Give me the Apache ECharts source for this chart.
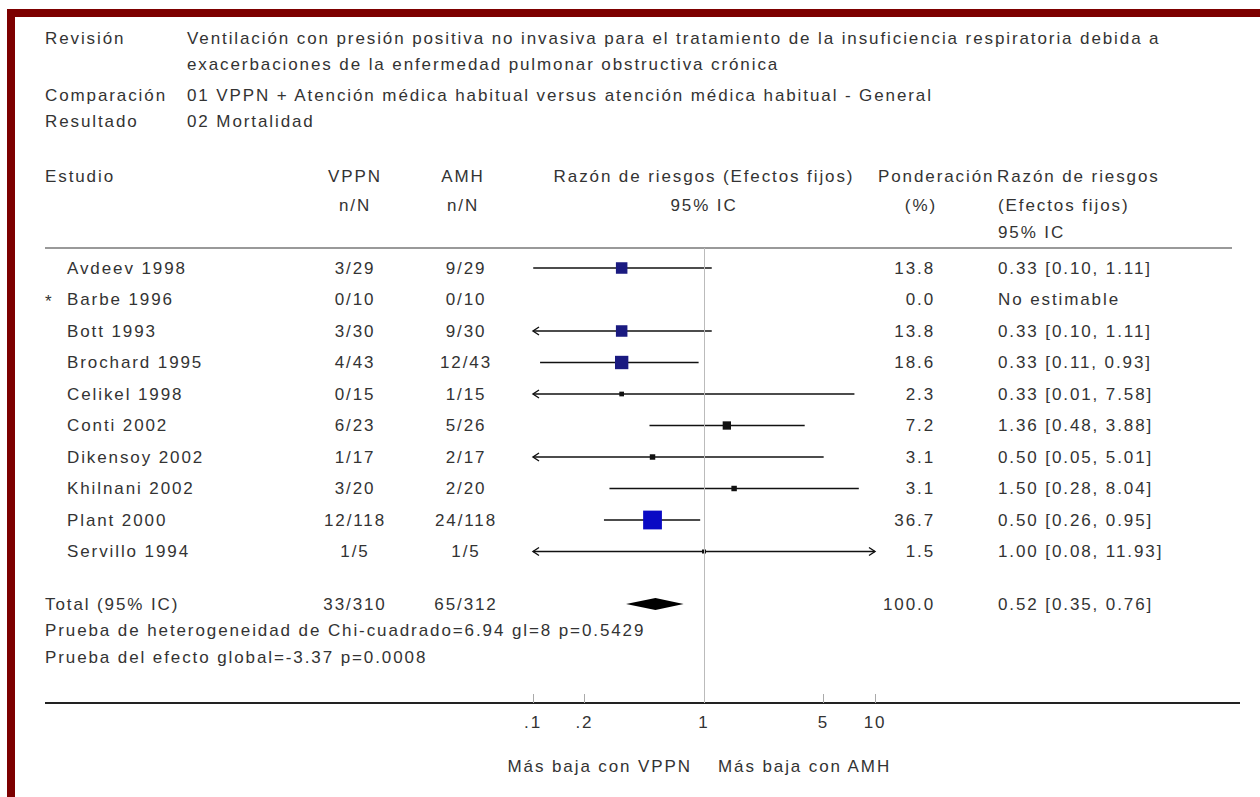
<!DOCTYPE html>
<html><head><meta charset="utf-8">
<script src="https://cdn.jsdelivr.net/npm/echarts@6/dist/echarts.min.js"></script>
<style>
html,body{margin:0;padding:0;background:#fff;}
#c{width:1260px;height:797px;}
#c svg text{letter-spacing:1.9px;}
</style></head><body><div id="c"></div>
<script>
// ---------- data ----------
const studies = ['Avdeev 1998','Barbe 1996','Bott 1993','Brochard 1995','Celikel 1998','Conti 2002','Dikensoy 2002','Khilnani 2002','Plant 2000','Servillo 1994'];
const vppnCounts = ['3/29','0/10','3/30','4/43','0/15','6/23','1/17','3/20','12/118','1/5'];
const amhCounts = ['9/29','0/10','9/30','12/43','1/15','5/26','2/17','2/20','24/118','1/5'];
const weights = [13.8,0.0,13.8,18.6,2.3,7.2,3.1,3.1,36.7,1.5];
const riskRatio = [0.33,null,0.33,0.33,0.33,1.36,0.50,1.50,0.50,1.00];
const ciLow = [0.1003,null,0.0999,0.11,0.01,0.48,0.05,0.28,0.26,0.08];
const ciHigh = [1.11,null,1.11,0.93,7.58,3.88,5.01,8.04,0.95,11.93];
const totalLabels = ['Total (95% IC)','33/310','65/312'];
const totalWeight = [100.0];
const totalEffect = [0.52,0.35,0.76];
const xTickValues = [0.1,0.2,1,5,10];
const xTickLabels = ['.1','.2','1','5','10'];
const titleLines = [
  ['Revisión','Ventilación con presión positiva no invasiva para el tratamiento de la insuficiencia respiratoria debida a'],
  ['','exacerbaciones de la enfermedad pulmonar obstructiva crónica'],
  ['Comparación','01 VPPN + Atención médica habitual versus atención médica habitual - General'],
  ['Resultado','02 Mortalidad']
];
const statsLines = ['Prueba de heterogeneidad de Chi-cuadrado=6.94 gl=8 p=0.5429','Prueba del efecto global=-3.37 p=0.0008'];

// ---------- layout ----------
const FAMILY = '"Liberation Sans", Arial, sans-serif';
const FONT = '17px ' + FAMILY;
const TXT = '#333';
const ROW0 = 268, ROW_H = 31.5, GTOP = 248, GBOT = 703;
const TOTAL_POS = (604 - ROW0) / ROW_H;
const XMIN = 0.1, XMAX = 10;
const COL = {star:45, name:67, vppn:355, amh:466, weight:935, rr:998};

function t(text, x, y, align, extra) {
  return Object.assign({type:'text', x:x, y:y, style:{text:text, fill:TXT, font:FONT, align:align||'left', verticalAlign:'middle'}}, extra||{});
}

const graphics = [
  {type:'rect', shape:{x:7,y:9,width:1253,height:8}, style:{fill:'#7d0000'}},
  {type:'rect', shape:{x:7,y:9,width:8,height:788}, style:{fill:'#7d0000'}},
  {type:'line', shape:{x1:45,y1:GTOP,x2:1232,y2:GTOP}, style:{stroke:'#999',lineWidth:2}},
  {type:'line', shape:{x1:45,y1:GBOT,x2:1240,y2:GBOT}, style:{stroke:'#222',lineWidth:2}}
];
const titleY = [38,64,95,121];
titleLines.forEach((l,i)=>{ if(l[0]) graphics.push(t(l[0],45,titleY[i])); graphics.push(t(l[1],187,titleY[i])); });
graphics.push(t('Estudio',45,176));
graphics.push(t('VPPN',COL.vppn,176,'center'), t('n/N',COL.vppn,205,'center'));
graphics.push(t('AMH',463,176,'center'), t('n/N',463,205,'center'));
graphics.push(t('Razón de riesgos (Efectos fijos)',704,176,'center'), t('95% IC',704,205,'center'));
graphics.push(t('Ponderación',878,176), t('(%)',937,205,'right'));
graphics.push(t('Razón de riesgos',997,176), t('(Efectos fijos)',998,205), t('95% IC',998,232));
graphics.push(t(statsLines[0],45,630), t(statsLines[1],45,657));
graphics.push(t('Más baja con VPPN',692,766,'right'), t('Más baja con AMH',718,766));

// ---------- series data ----------
const ciData = [];
studies.forEach((s,i)=>{ if(riskRatio[i]!==null) ciData.push([i, ciLow[i], ciHigh[i], riskRatio[i], weights[i]]); });
const tableData = studies.map((s,i)=>[1,i]);
tableData.push([1,TOTAL_POS]);

function fmtRR(r,l,h){ return r.toFixed(2)+' ['+l.toFixed(2)+', '+h.toFixed(2)+']'; }

const chart = echarts.init(document.getElementById('c'), null, {renderer:'svg'});
chart.setOption({
  backgroundColor:'#fff',
  animation:false,
  graphic: graphics,
  grid:{left:533, width:342, top:GTOP, height:GBOT-GTOP},
  xAxis:{type:'log', logBase:10, min:XMIN, max:XMAX, position:'bottom',
    axisLine:{show:false, onZero:false}, splitLine:{show:false},
    axisTick:{show:true, inside:true, length:9, customValues:xTickValues, lineStyle:{color:'#aaa'}},
    axisLabel:{show:true, customValues:xTickValues, margin:11, color:TXT, fontSize:17, fontFamily:FAMILY,
      formatter:function(v){ const k = xTickValues.findIndex(x=>Math.abs(x-v)<1e-9); return k>=0 ? xTickLabels[k] : ''; }}
  },
  yAxis:{type:'value', inverse:true, show:false, min:(GTOP-ROW0)/ROW_H, max:(GBOT-ROW0)/ROW_H},
  series:[
    {
      type:'custom', name:'ci', data:ciData, encode:{x:[1,2,3], y:0}, clip:false,
      renderItem:function(params, api){
        const i = api.value(0), lo = api.value(1), hi = api.value(2), r = api.value(3), w = api.value(4);
        const pL = api.coord([Math.max(lo,XMIN), i]);
        const pR = api.coord([Math.min(hi,XMAX), i]);
        const pC = api.coord([r, i]);
        const y = pC[1];
        const children = [{type:'line', shape:{x1:pL[0],y1:y,x2:pR[0],y2:y}, style:{stroke:'#111',lineWidth:1.7}}];
        if(lo < XMIN) children.push({type:'polyline', shape:{points:[[pL[0]+6,y-4],[pL[0],y],[pL[0]+6,y+4]]}, style:{stroke:'#111',fill:null,lineWidth:1.4}});
        if(hi > XMAX) children.push({type:'polyline', shape:{points:[[pR[0]-6,y-4],[pR[0],y],[pR[0]-6,y+4]]}, style:{stroke:'#111',fill:null,lineWidth:1.4}});
        const sz = Math.max(4, 3.1*Math.sqrt(w));
        children.push({type:'rect', shape:{x:pC[0]-sz/2, y:y-sz/2, width:sz, height:sz}, style:{fill: w>=30 ? '#0a0ac4' : (w>=10 ? '#1a1a80' : '#111')}});
        return {type:'group', children:children};
      },
      markLine:{silent:true, symbol:'none', label:{show:false}, data:[{xAxis:1}], lineStyle:{color:'#bbb', width:1, type:'solid'}}
    },
    {
      type:'custom', name:'total', data:[[TOTAL_POS].concat(totalEffect)], encode:{x:[1,2,3], y:0}, clip:false,
      renderItem:function(params, api){
        const y = api.coord([1, api.value(0)])[1];
        const c = api.coord([api.value(1), 0])[0], l = api.coord([api.value(2),0])[0], r = api.coord([api.value(3),0])[0];
        return {type:'polygon', shape:{points:[[l,y],[c,y-6],[r,y],[c,y+6]]}, style:{fill:'#000'}};
      }
    },
    {
      type:'custom', name:'table', data:tableData, encode:{x:0, y:1}, clip:false,
      renderItem:function(params, api){
        const idx = params.dataIndex;
        const y = api.coord([1, api.value(1)])[1];
        const kids = [];
        if(idx < studies.length){
          if(riskRatio[idx]===null) kids.push(t('*',COL.star,y+2));
          kids.push(t(studies[idx],COL.name,y));
          kids.push(t(vppnCounts[idx],COL.vppn,y,'center'));
          kids.push(t(amhCounts[idx],COL.amh,y,'center'));
          kids.push(t(weights[idx].toFixed(1),COL.weight,y,'right'));
          kids.push(t(riskRatio[idx]===null ? 'No estimable' : fmtRR(riskRatio[idx],ciLow[idx],ciHigh[idx]),COL.rr,y));
        } else {
          kids.push(t(totalLabels[0],45,y));
          kids.push(t(totalLabels[1],COL.vppn,y,'center'));
          kids.push(t(totalLabels[2],COL.amh,y,'center'));
          kids.push(t(totalWeight[0].toFixed(1),COL.weight,y,'right'));
          kids.push(t(fmtRR(totalEffect[0],totalEffect[1],totalEffect[2]),COL.rr,y));
        }
        return {type:'group', children:kids};
      }
    }
  ]
});
</script></body></html>
